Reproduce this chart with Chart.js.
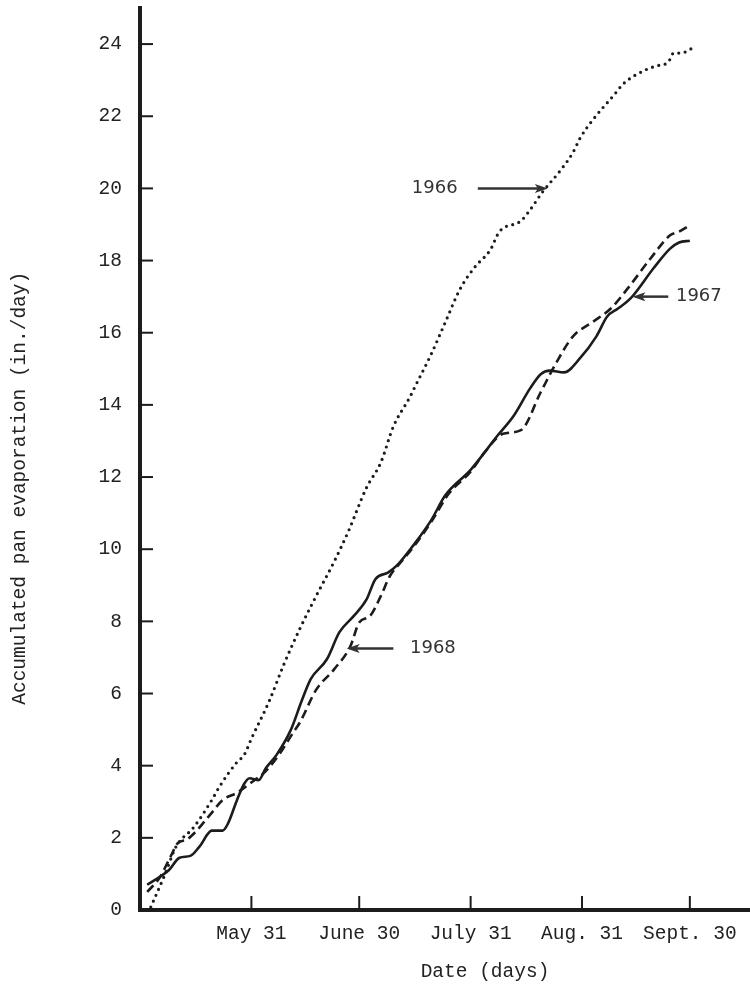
<!DOCTYPE html>
<html>
<head>
    <title>Accumulated pan evaporation</title>
    <script src="https://cdn.jsdelivr.net/npm/chart.js@4.4.1/dist/chart.umd.min.js"></script>
    <style>
        html, body {
            margin: 0;
            padding: 0;
            background: #ffffff;
            overflow: hidden;
        }

        #evapChart {
            display: block;
        }
    </style>
</head>
<body>
    <canvas id="evapChart" width="830" height="985"></canvas>

    <script>
        // day of year for each reading, and accumulated evaporation (in.)
        const days1966 = [123, 127, 130, 135, 140, 142, 147, 149, 151, 156, 160, 164.5, 169, 174, 178, 183,
            187, 190.5, 195, 197, 201, 205, 209, 213, 217.5, 220, 226, 228.5, 232, 237, 240.5, 242.5,
            246, 252, 254.5, 261, 264, 267, 268.5, 270.5, 274];
        const evap1966 = [0.08, 1.0, 1.75, 2.3, 3.05, 3.4, 4.1, 4.3, 4.75, 5.8, 6.8, 7.8, 8.7, 9.65, 10.5, 11.7,
            12.4, 13.4, 14.2, 14.6, 15.4, 16.3, 17.2, 17.8, 18.3, 18.8, 19.1, 19.4, 19.9, 20.5, 21.0, 21.4,
            21.9, 22.6, 22.9, 23.3, 23.4, 23.5, 23.75, 23.75, 23.9];

        const days1967 = [122, 125.5, 128, 131, 134, 136.5, 140, 143, 144.5, 147, 149, 150.5, 153, 155, 158,
            162, 165, 167.5, 172, 175.5, 179.5, 183, 185.5, 189, 191.5, 196, 201, 205, 212, 219.5, 224,
            228.5, 231.5, 234, 238, 242.5, 247, 250, 253, 256.5, 263, 267.5, 270, 273];
        const evap1967 = [0.7, 0.92, 1.1, 1.45, 1.5, 1.75, 2.2, 2.2, 2.4, 3.05, 3.5, 3.65, 3.6, 3.93, 4.3,
            5.0, 5.8, 6.4, 6.95, 7.7, 8.15, 8.6, 9.17, 9.35, 9.55, 10.1, 10.8, 11.5, 12.2, 13.15, 13.7,
            14.45, 14.85, 14.95, 14.9, 15.3, 15.9, 16.45, 16.67, 16.95, 17.8, 18.33, 18.5, 18.55];

        const days1968 = [122, 125.5, 128.5, 130.5, 133, 135.5, 137.5, 140, 143, 147, 150.5, 155, 159, 162.5,
            164.5, 169, 174, 178.5, 181, 184, 187, 189.5, 192.5, 196, 201, 206, 212, 216, 221, 226, 231.5,
            236, 240.5, 246, 251, 255.5, 262, 267.5, 270, 272.5];
        const evap1968 = [0.5, 0.9, 1.48, 1.85, 1.95, 2.17, 2.4, 2.7, 3.05, 3.25, 3.5, 3.85, 4.35, 4.9,
            5.2, 6.1, 6.67, 7.3, 7.97, 8.15, 8.7, 9.25, 9.63, 10.05, 10.75, 11.55, 12.15, 12.7, 13.2, 13.3, 14.35,
            15.2, 15.9, 16.3, 16.67, 17.2, 18.05, 18.7, 18.8, 18.95];

        // month-end tick marks on the date axis
        const tickDays = [151, 181, 212, 243, 273];
        const tickLabels = ['May 31', 'June 30', 'July 31', 'Aug. 31', 'Sept. 30'];
        const yTicks = [0, 2, 4, 6, 8, 10, 12, 14, 16, 18, 20, 22, 24];

        // year labels with arrows pointing at their curve
        const yearNotes = [
            { text: '1966', textDay: 202, tailDay: 214, tipDay: 233.5, value: 20.0 },
            { text: '1967', textDay: 275.5, tailDay: 267, tipDay: 257, value: 17.0 },
            { text: '1968', textDay: 201.5, tailDay: 190.5, tipDay: 177.5, value: 7.25 }
        ];

        const ink = '#1c1c1c';

        function toPoints(days, values) {
            return days.map((d, i) => ({ x: d, y: values[i] }));
        }

        // tick marks that point into the plot instead of out of it
        const innerTicks = {
            id: 'innerTicks',
            afterDraw(chart) {
                const ctx = chart.ctx;
                const xs = chart.scales.x;
                const ys = chart.scales.y;
                ctx.save();
                ctx.strokeStyle = ink;
                ctx.lineWidth = 2;
                yTicks.forEach(v => {
                    const py = ys.getPixelForValue(v);
                    if (v === 0) return;
                    ctx.beginPath();
                    ctx.moveTo(xs.left, py);
                    ctx.lineTo(xs.left + 13, py);
                    ctx.stroke();
                });
                tickDays.forEach(d => {
                    const px = xs.getPixelForValue(d);
                    ctx.beginPath();
                    ctx.moveTo(px, ys.bottom);
                    ctx.lineTo(px, ys.bottom - 14);
                    ctx.stroke();
                });
                ctx.restore();
            }
        };

        const yearArrows = {
            id: 'yearArrows',
            afterDatasetsDraw(chart) {
                const ctx = chart.ctx;
                const xs = chart.scales.x;
                const ys = chart.scales.y;
                ctx.save();
                ctx.fillStyle = '#333';
                ctx.strokeStyle = '#333';
                ctx.lineWidth = 2.5;
                ctx.font = '18px "DejaVu Sans"';
                ctx.textAlign = 'center';
                ctx.textBaseline = 'middle';
                yearNotes.forEach(n => {
                    const py = ys.getPixelForValue(n.value);
                    const tail = xs.getPixelForValue(n.tailDay);
                    const tip = xs.getPixelForValue(n.tipDay);
                    const dir = tip > tail ? 1 : -1;
                    ctx.fillText(n.text, xs.getPixelForValue(n.textDay), py);
                    ctx.beginPath();
                    ctx.moveTo(tail, py);
                    ctx.lineTo(tip - dir * 8, py);
                    ctx.stroke();
                    ctx.beginPath();
                    ctx.moveTo(tip, py);
                    ctx.lineTo(tip - dir * 13, py - 4.5);
                    ctx.lineTo(tip - dir * 10, py);
                    ctx.lineTo(tip - dir * 13, py + 4.5);
                    ctx.closePath();
                    ctx.fill();
                });
                ctx.restore();
            }
        };

        Chart.defaults.font.family = '"Liberation Mono", monospace';
        Chart.defaults.color = '#222';

        const evapChart = new Chart(document.getElementById('evapChart'), {
            type: 'line',
            data: {
                datasets: [{
                    label: '1966',
                    data: toPoints(days1966, evap1966),
                    borderColor: ink,
                    borderWidth: 3.2,
                    borderDash: [0, 6.5],
                    borderCapStyle: 'round',
                    pointRadius: 0,
                    cubicInterpolationMode: 'monotone'
                }, {
                    label: '1967',
                    data: toPoints(days1967, evap1967),
                    borderColor: ink,
                    borderWidth: 2.6,
                    pointRadius: 0,
                    cubicInterpolationMode: 'monotone'
                }, {
                    label: '1968',
                    data: toPoints(days1968, evap1968),
                    borderColor: ink,
                    borderWidth: 2.6,
                    borderDash: [9, 5],
                    pointRadius: 0,
                    cubicInterpolationMode: 'monotone'
                }]
            },
            options: {
                responsive: false,
                animation: false,
                devicePixelRatio: 1,
                layout: { padding: { top: 8, left: 0, right: 0, bottom: 0 } },
                plugins: {
                    legend: { display: false },
                    tooltip: { enabled: false }
                },
                scales: {
                    x: {
                        type: 'linear',
                        min: 120,
                        max: 312,
                        afterFit(scale) {
                            scale.height = 75;
                            scale.paddingLeft = 0;
                            scale.paddingRight = 0;
                        },
                        afterBuildTicks(scale) {
                            scale.ticks = tickDays.map(d => ({ value: d }));
                        },
                        ticks: {
                            autoSkip: false,
                            maxRotation: 0,
                            padding: 12,
                            font: { size: 19.5 },
                            callback: (v) => tickLabels[tickDays.indexOf(v)]
                        },
                        grid: { drawOnChartArea: false, drawTicks: false },
                        border: { color: ink, width: 4 },
                        title: {
                            display: true,
                            text: 'Date (days)',
                            font: { size: 19.5 },
                            padding: { top: 0, bottom: 1 }
                        }
                    },
                    y: {
                        type: 'linear',
                        min: 0,
                        max: 25,
                        afterFit(scale) {
                            scale.width = 140;
                            scale.paddingTop = 0;
                            scale.paddingBottom = 0;
                        },
                        afterBuildTicks(scale) {
                            scale.ticks = yTicks.map(v => ({ value: v }));
                        },
                        ticks: {
                            padding: 18,
                            font: { size: 19.5 }
                        },
                        grid: { drawOnChartArea: false, drawTicks: false },
                        border: { color: ink, width: 4 },
                        title: {
                            display: true,
                            text: 'Accumulated pan evaporation (in./day)     ',
                            font: { size: 19.5 },
                            padding: { top: 8, bottom: 0 }
                        }
                    }
                }
            },
            plugins: [innerTicks, yearArrows]
        });
    </script>
</body>
</html>
